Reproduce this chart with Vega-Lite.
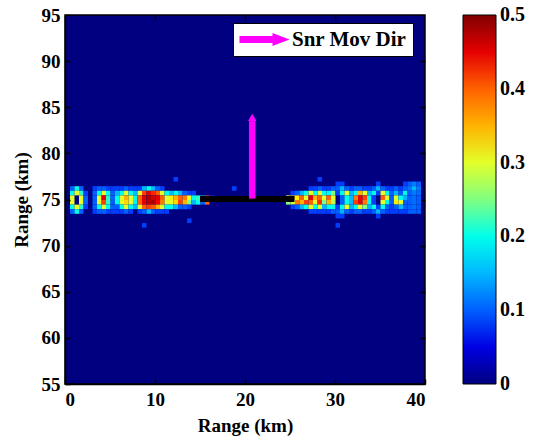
{
"$schema": "https://vega.github.io/schema/vega-lite/v6.json",
"width": 360,
"height": 369,
"autosize": {"type": "none"},
"padding": {"left": 65, "top": 15, "right": 113, "bottom": 55},
"background": "white",
"config": {
  "font": "Times New Roman, serif",
  "view": {"fill": "#000080", "stroke": "black", "strokeWidth": 1.5},
  "axis": {"labelFont": "Times New Roman, serif", "labelFontWeight": "bold", "labelFontSize": 19, "labelColor": "black", "titleFont": "Times New Roman, serif", "titleFontWeight": "bold", "titleFontSize": 19, "titleColor": "black", "domainColor": "black", "domainWidth": 1.5, "tickColor": "black", "tickSize": -5, "tickWidth": 1.5, "grid": false},
  "legend": {"labelFont": "Times New Roman, serif", "titleFont": "Times New Roman, serif"}
},
"resolve": {"axis": {"x": "independent", "y": "independent"}},
"datasets": {
  "heat": [
{"x":0.75,"y":76.25,"v":0.1},{"x":0.75,"y":75.75,"v":0.2},{"x":0.75,"y":75.25,"v":0.3},{"x":0.75,"y":74.75,"v":0.3},{"x":0.75,"y":74.25,"v":0.2},{"x":0.75,"y":73.75,"v":0.1},
{"x":1.25,"y":76.25,"v":0.2},{"x":1.25,"y":75.75,"v":0.3},{"x":1.25,"y":74.25,"v":0.3},{"x":1.25,"y":73.75,"v":0.2},
{"x":1.75,"y":76.25,"v":0.1},{"x":1.75,"y":75.75,"v":0.22},{"x":1.75,"y":75.25,"v":0.3},{"x":1.75,"y":74.75,"v":0.3},{"x":1.75,"y":74.25,"v":0.22},{"x":1.75,"y":73.75,"v":0.1},
{"x":2.25,"y":75.75,"v":0.08},{"x":2.25,"y":75.25,"v":0.1},{"x":2.25,"y":74.75,"v":0.1},{"x":2.25,"y":74.25,"v":0.08},
{"x":3.25,"y":76.25,"v":0.08},{"x":3.25,"y":75.75,"v":0.1},{"x":3.25,"y":75.25,"v":0.1},{"x":3.25,"y":74.75,"v":0.1},{"x":3.25,"y":74.25,"v":0.1},{"x":3.25,"y":73.75,"v":0.08},
{"x":3.75,"y":76.25,"v":0.1},{"x":3.75,"y":75.75,"v":0.2},{"x":3.75,"y":75.25,"v":0.3},{"x":3.75,"y":74.75,"v":0.3},{"x":3.75,"y":74.25,"v":0.2},{"x":3.75,"y":73.75,"v":0.1},
{"x":4.25,"y":76.25,"v":0.1},{"x":4.25,"y":75.75,"v":0.3},{"x":4.25,"y":75.25,"v":0.45},{"x":4.25,"y":74.75,"v":0.42},{"x":4.25,"y":74.25,"v":0.3},{"x":4.25,"y":73.75,"v":0.1},
{"x":4.75,"y":76.25,"v":0.08},{"x":4.75,"y":75.75,"v":0.2},{"x":4.75,"y":75.25,"v":0.22},{"x":4.75,"y":74.75,"v":0.22},{"x":4.75,"y":74.25,"v":0.2},{"x":4.75,"y":73.75,"v":0.08},
{"x":5.25,"y":76.25,"v":0.08},{"x":5.25,"y":75.75,"v":0.1},{"x":5.25,"y":75.25,"v":0.1},{"x":5.25,"y":74.75,"v":0.1},{"x":5.25,"y":74.25,"v":0.1},{"x":5.25,"y":73.75,"v":0.08},
{"x":5.75,"y":76.25,"v":0.08},{"x":5.75,"y":75.75,"v":0.15},{"x":5.75,"y":75.25,"v":0.2},{"x":5.75,"y":74.75,"v":0.2},{"x":5.75,"y":74.25,"v":0.1},{"x":5.75,"y":73.75,"v":0.08},
{"x":6.25,"y":76.25,"v":0.08},{"x":6.25,"y":75.75,"v":0.2},{"x":6.25,"y":75.25,"v":0.3},{"x":6.25,"y":74.75,"v":0.3},{"x":6.25,"y":74.25,"v":0.2},{"x":6.25,"y":73.75,"v":0.08},
{"x":6.75,"y":76.25,"v":0.1},{"x":6.75,"y":75.75,"v":0.3},{"x":6.75,"y":75.25,"v":0.35},{"x":6.75,"y":74.75,"v":0.33},{"x":6.75,"y":74.25,"v":0.3},{"x":6.75,"y":73.75,"v":0.1},
{"x":7.25,"y":76.25,"v":0.08},{"x":7.25,"y":75.75,"v":0.2},{"x":7.25,"y":75.25,"v":0.3},{"x":7.25,"y":74.75,"v":0.3},{"x":7.25,"y":74.25,"v":0.2},{"x":7.25,"y":73.75,"v":0.08},
{"x":7.75,"y":76.25,"v":0.08},{"x":7.75,"y":75.75,"v":0.15},{"x":7.75,"y":75.25,"v":0.2},{"x":7.75,"y":74.75,"v":0.18},{"x":7.75,"y":74.25,"v":0.15},
{"x":8.25,"y":76.25,"v":0.08},{"x":8.25,"y":75.75,"v":0.3},{"x":8.25,"y":75.25,"v":0.4},{"x":8.25,"y":74.75,"v":0.4},{"x":8.25,"y":74.25,"v":0.3},{"x":8.25,"y":73.75,"v":0.08},
{"x":8.75,"y":76.25,"v":0.15},{"x":8.75,"y":75.75,"v":0.42},{"x":8.75,"y":75.25,"v":0.46},{"x":8.75,"y":74.75,"v":0.45},{"x":8.75,"y":74.25,"v":0.4},{"x":8.75,"y":73.75,"v":0.1},
{"x":9.25,"y":76.25,"v":0.2},{"x":9.25,"y":75.75,"v":0.45},{"x":9.25,"y":75.25,"v":0.48},{"x":9.25,"y":74.75,"v":0.47},{"x":9.25,"y":74.25,"v":0.42},{"x":9.25,"y":73.75,"v":0.15},
{"x":9.75,"y":76.25,"v":0.15},{"x":9.75,"y":75.75,"v":0.43},{"x":9.75,"y":75.25,"v":0.46},{"x":9.75,"y":74.75,"v":0.48},{"x":9.75,"y":74.25,"v":0.4},{"x":9.75,"y":73.75,"v":0.1},
{"x":10.25,"y":76.25,"v":0.1},{"x":10.25,"y":75.75,"v":0.4},{"x":10.25,"y":75.25,"v":0.45},{"x":10.25,"y":74.75,"v":0.44},{"x":10.25,"y":74.25,"v":0.35},{"x":10.25,"y":73.75,"v":0.08},
{"x":10.75,"y":76.25,"v":0.08},{"x":10.75,"y":75.75,"v":0.3},{"x":10.75,"y":75.25,"v":0.4},{"x":10.75,"y":74.75,"v":0.38},{"x":10.75,"y":74.25,"v":0.3},{"x":10.75,"y":73.75,"v":0.08},
{"x":11.25,"y":75.75,"v":0.2},{"x":11.25,"y":75.25,"v":0.3},{"x":11.25,"y":74.75,"v":0.3},{"x":11.25,"y":74.25,"v":0.2},{"x":11.25,"y":73.75,"v":0.08},
{"x":11.75,"y":75.75,"v":0.15},{"x":11.75,"y":75.25,"v":0.32},{"x":11.75,"y":74.75,"v":0.3},{"x":11.75,"y":74.25,"v":0.2},
{"x":12.25,"y":75.75,"v":0.2},{"x":12.25,"y":75.25,"v":0.35},{"x":12.25,"y":74.75,"v":0.33},{"x":12.25,"y":74.25,"v":0.15},
{"x":12.75,"y":75.75,"v":0.15},{"x":12.75,"y":75.25,"v":0.4},{"x":12.75,"y":74.75,"v":0.42},{"x":12.75,"y":74.25,"v":0.1},
{"x":13.25,"y":75.75,"v":0.1},{"x":13.25,"y":75.25,"v":0.38},{"x":13.25,"y":74.75,"v":0.35},{"x":13.25,"y":74.25,"v":0.1},
{"x":13.75,"y":75.75,"v":0.08},{"x":13.75,"y":75.25,"v":0.3},{"x":13.75,"y":74.75,"v":0.25},{"x":13.75,"y":74.25,"v":0.08},
{"x":14.25,"y":75.75,"v":0.08},{"x":14.25,"y":75.25,"v":0.2},{"x":14.25,"y":74.75,"v":0.15},
{"x":14.75,"y":75.25,"v":0.22},{"x":14.75,"y":74.75,"v":0.2},
{"x":15.25,"y":75.25,"v":0.15},{"x":15.25,"y":74.75,"v":0.1},
{"x":15.75,"y":75.25,"v":0.42},{"x":15.75,"y":74.75,"v":0.4},
{"x":16.25,"y":75.25,"v":0.08},
{"x":12.25,"y":77.25,"v":0.08},{"x":18.75,"y":76.25,"v":0.08},{"x":13.75,"y":72.75,"v":0.08},{"x":8.75,"y":72.25,"v":0.08},{"x":28.25,"y":77.25,"v":0.08},{"x":30.25,"y":72.25,"v":0.08},
{"x":24.75,"y":75.25,"v":0.3},{"x":24.75,"y":74.75,"v":0.25},
{"x":25.25,"y":75.75,"v":0.08},{"x":25.25,"y":75.25,"v":0.35},{"x":25.25,"y":74.75,"v":0.3},{"x":25.25,"y":74.25,"v":0.08},
{"x":25.75,"y":75.75,"v":0.1},{"x":25.75,"y":75.25,"v":0.32},{"x":25.75,"y":74.75,"v":0.38},{"x":25.75,"y":74.25,"v":0.1},
{"x":26.25,"y":75.75,"v":0.15},{"x":26.25,"y":75.25,"v":0.4},{"x":26.25,"y":74.75,"v":0.35},{"x":26.25,"y":74.25,"v":0.15},
{"x":26.75,"y":75.75,"v":0.2},{"x":26.75,"y":75.25,"v":0.3},{"x":26.75,"y":74.75,"v":0.42},{"x":26.75,"y":74.25,"v":0.2},
{"x":27.25,"y":76.25,"v":0.08},{"x":27.25,"y":75.75,"v":0.3},{"x":27.25,"y":75.25,"v":0.45},{"x":27.25,"y":74.75,"v":0.4},{"x":27.25,"y":74.25,"v":0.3},{"x":27.25,"y":73.75,"v":0.08},
{"x":27.75,"y":76.25,"v":0.08},{"x":27.75,"y":75.75,"v":0.2},{"x":27.75,"y":75.25,"v":0.35},{"x":27.75,"y":74.75,"v":0.3},{"x":27.75,"y":74.25,"v":0.2},{"x":27.75,"y":73.75,"v":0.08},
{"x":28.25,"y":76.25,"v":0.1},{"x":28.25,"y":75.75,"v":0.3},{"x":28.25,"y":75.25,"v":0.4},{"x":28.25,"y":74.75,"v":0.43},{"x":28.25,"y":74.25,"v":0.3},{"x":28.25,"y":73.75,"v":0.08},
{"x":28.75,"y":76.25,"v":0.08},{"x":28.75,"y":75.75,"v":0.2},{"x":28.75,"y":75.25,"v":0.3},{"x":28.75,"y":74.75,"v":0.25},{"x":28.75,"y":74.25,"v":0.15},{"x":28.75,"y":73.75,"v":0.08},
{"x":29.25,"y":76.25,"v":0.08},{"x":29.25,"y":75.75,"v":0.2},{"x":29.25,"y":75.25,"v":0.4},{"x":29.25,"y":74.75,"v":0.35},{"x":29.25,"y":74.25,"v":0.2},{"x":29.25,"y":73.75,"v":0.08},
{"x":29.75,"y":76.25,"v":0.1},{"x":29.75,"y":75.75,"v":0.25},{"x":29.75,"y":75.25,"v":0.3},{"x":29.75,"y":74.75,"v":0.28},{"x":29.75,"y":74.25,"v":0.2},{"x":29.75,"y":73.75,"v":0.1},
{"x":30.25,"y":76.75,"v":0.08},{"x":30.25,"y":76.25,"v":0.1},{"x":30.25,"y":75.75,"v":0.08},{"x":30.25,"y":74.25,"v":0.08},{"x":30.25,"y":73.75,"v":0.1},{"x":30.25,"y":73.25,"v":0.08},
{"x":30.75,"y":76.75,"v":0.08},{"x":30.75,"y":76.25,"v":0.15},{"x":30.75,"y":75.75,"v":0.2},{"x":30.75,"y":75.25,"v":0.1},{"x":30.75,"y":74.75,"v":0.1},{"x":30.75,"y":74.25,"v":0.2},{"x":30.75,"y":73.75,"v":0.15},{"x":30.75,"y":73.25,"v":0.08},
{"x":31.25,"y":76.25,"v":0.1},{"x":31.25,"y":75.75,"v":0.3},{"x":31.25,"y":75.25,"v":0.2},{"x":31.25,"y":74.75,"v":0.2},{"x":31.25,"y":74.25,"v":0.3},{"x":31.25,"y":73.75,"v":0.1},
{"x":31.75,"y":76.25,"v":0.08},{"x":31.75,"y":75.75,"v":0.15},{"x":31.75,"y":75.25,"v":0.15},{"x":31.75,"y":74.75,"v":0.15},{"x":31.75,"y":74.25,"v":0.15},{"x":31.75,"y":73.75,"v":0.08},
{"x":32.25,"y":76.25,"v":0.1},{"x":32.25,"y":75.75,"v":0.2},{"x":32.25,"y":75.25,"v":0.38},{"x":32.25,"y":74.75,"v":0.42},{"x":32.25,"y":74.25,"v":0.2},{"x":32.25,"y":73.75,"v":0.1},
{"x":32.75,"y":76.25,"v":0.1},{"x":32.75,"y":75.75,"v":0.35},{"x":32.75,"y":75.25,"v":0.45},{"x":32.75,"y":74.75,"v":0.45},{"x":32.75,"y":74.25,"v":0.3},{"x":32.75,"y":73.75,"v":0.1},
{"x":33.25,"y":76.25,"v":0.08},{"x":33.25,"y":75.75,"v":0.3},{"x":33.25,"y":75.25,"v":0.42},{"x":33.25,"y":74.75,"v":0.38},{"x":33.25,"y":74.25,"v":0.25},{"x":33.25,"y":73.75,"v":0.08},
{"x":33.75,"y":76.25,"v":0.08},{"x":33.75,"y":75.75,"v":0.15},{"x":33.75,"y":75.25,"v":0.2},{"x":33.75,"y":74.75,"v":0.2},{"x":33.75,"y":74.25,"v":0.15},{"x":33.75,"y":73.75,"v":0.08},
{"x":34.25,"y":76.25,"v":0.1},{"x":34.25,"y":75.75,"v":0.2},{"x":34.25,"y":75.25,"v":0.08},{"x":34.25,"y":74.75,"v":0.08},{"x":34.25,"y":74.25,"v":0.2},{"x":34.25,"y":73.75,"v":0.1},
{"x":34.75,"y":76.75,"v":0.08},{"x":34.75,"y":76.25,"v":0.15},{"x":34.75,"y":75.75,"v":0.08},{"x":34.75,"y":74.25,"v":0.08},{"x":34.75,"y":73.75,"v":0.15},{"x":34.75,"y":73.25,"v":0.08},
{"x":35.25,"y":76.25,"v":0.1},{"x":35.25,"y":75.75,"v":0.3},{"x":35.25,"y":75.25,"v":0.4},{"x":35.25,"y":74.75,"v":0.3},{"x":35.25,"y":74.25,"v":0.2},{"x":35.25,"y":73.75,"v":0.1},
{"x":35.75,"y":76.25,"v":0.08},{"x":35.75,"y":75.75,"v":0.2},{"x":35.75,"y":75.25,"v":0.3},{"x":35.75,"y":74.75,"v":0.2},{"x":35.75,"y":74.25,"v":0.1},{"x":35.75,"y":73.75,"v":0.08},
{"x":36.25,"y":76.25,"v":0.08},{"x":36.25,"y":75.75,"v":0.1},{"x":36.25,"y":75.25,"v":0.1},{"x":36.25,"y":74.75,"v":0.1},{"x":36.25,"y":74.25,"v":0.08},{"x":36.25,"y":73.75,"v":0.08},
{"x":36.75,"y":76.25,"v":0.1},{"x":36.75,"y":75.75,"v":0.15},{"x":36.75,"y":75.25,"v":0.3},{"x":36.75,"y":74.75,"v":0.32},{"x":36.75,"y":74.25,"v":0.1},{"x":36.75,"y":73.75,"v":0.08},
{"x":37.25,"y":76.25,"v":0.08},{"x":37.25,"y":75.75,"v":0.1},{"x":37.25,"y":75.25,"v":0.2},{"x":37.25,"y":74.75,"v":0.3},{"x":37.25,"y":74.25,"v":0.15},{"x":37.25,"y":73.75,"v":0.08},
{"x":37.75,"y":76.75,"v":0.08},{"x":37.75,"y":76.25,"v":0.1},{"x":37.75,"y":75.75,"v":0.2},{"x":37.75,"y":75.25,"v":0.15},{"x":37.75,"y":74.75,"v":0.1},{"x":37.75,"y":74.25,"v":0.1},{"x":37.75,"y":73.75,"v":0.08},
{"x":38.25,"y":76.75,"v":0.1},{"x":38.25,"y":76.25,"v":0.12},{"x":38.25,"y":75.75,"v":0.1},{"x":38.25,"y":75.25,"v":0.1},{"x":38.25,"y":74.75,"v":0.1},{"x":38.25,"y":74.25,"v":0.1},{"x":38.25,"y":73.75,"v":0.1},
{"x":38.75,"y":76.75,"v":0.12},{"x":38.75,"y":76.25,"v":0.15},{"x":38.75,"y":75.75,"v":0.12},{"x":38.75,"y":75.25,"v":0.11},{"x":38.75,"y":74.75,"v":0.11},{"x":38.75,"y":74.25,"v":0.11},{"x":38.75,"y":73.75,"v":0.1},
{"x":39.25,"y":76.75,"v":0.1},{"x":39.25,"y":76.25,"v":0.12},{"x":39.25,"y":75.75,"v":0.11},{"x":39.25,"y":75.25,"v":0.1},{"x":39.25,"y":74.75,"v":0.1},{"x":39.25,"y":74.25,"v":0.1},{"x":39.25,"y":73.75,"v":0.1}
  ],
  "line": [{"x": 15, "x2": 25.5, "y": 75.05}],
  "arrow": [{"x": 20.8, "y": 75.1, "y2": 83.5, "head": 83.9, "name": "Snr Mov Dir"}]
},
"layer": [
  {
    "data": {"name": "heat"},
    "mark": {"type": "rect"},
    "encoding": {
      "x": {"field": "x", "type": "quantitative", "bin": {"step": 0.5, "extent": [0, 40]}, "scale": {"domain": [0, 40], "nice": false}, "axis": {"values": [0, 10, 20, 30, 40], "title": "Range (km)", "format": "d", "labelPadding": 11, "titlePadding": 7}},
      "y": {"field": "y", "type": "quantitative", "bin": {"step": 0.5, "extent": [55, 95]}, "scale": {"domain": [55, 95], "nice": false}, "axis": {"values": [55, 60, 65, 70, 75, 80, 85, 90, 95], "title": "Range (km)", "format": "d", "labelPadding": 10, "titlePadding": 10}},
      "color": {"field": "v", "type": "quantitative",
        "scale": {"domain": [0, 0.0625, 0.125, 0.1875, 0.25, 0.3125, 0.375, 0.4375, 0.5], "range": ["#000080", "#0000FF", "#0080FF", "#00FFFF", "#80FF80", "#FFFF00", "#FF8000", "#FF0000", "#800000"]},
        "legend": {"orient": "none", "legendX": 398, "legendY": 0, "direction": "vertical", "gradientLength": 369, "gradientThickness": 33, "title": null, "values": [0, 0.1, 0.2, 0.3, 0.4, 0.5], "format": ".1~f", "labelFontSize": 20, "labelFontWeight": "bold", "labelFont": "Times New Roman, serif", "labelColor": "black", "gradientStrokeColor": "black", "gradientStrokeWidth": 1, "labelOverlap": false, "labelOffset": 4,
          "encode": {"labels": {"update": {"baseline": {"value": "middle"}, "font": {"value": "Times New Roman, serif"}, "fontWeight": {"value": "bold"}}}}}}
    }
  },
  {
    "data": {"name": "line"},
    "mark": {"type": "rule", "color": "black", "strokeWidth": 6},
    "encoding": {
      "x": {"field": "x", "type": "quantitative", "axis": {"orient": "top", "values": [10, 20, 30], "labels": false, "title": null, "domain": false}},
      "x2": {"field": "x2"},
      "y": {"field": "y", "type": "quantitative", "axis": {"orient": "right", "values": [60, 65, 70, 75, 80, 85, 90], "labels": false, "title": null, "domain": false}}
    }
  },
  {
    "data": {"name": "arrow"},
    "mark": {"type": "rule", "color": "#FF00FF", "strokeWidth": 6.5},
    "encoding": {
      "x": {"field": "x", "type": "quantitative", "axis": null},
      "y": {"field": "y", "type": "quantitative", "axis": null},
      "y2": {"field": "y2"}
    }
  },
  {
    "data": {"name": "arrow"},
    "mark": {"type": "point", "shape": "triangle-up", "filled": true, "size": 70, "opacity": 1},
    "encoding": {
      "x": {"field": "x", "type": "quantitative", "axis": null},
      "y": {"field": "head", "type": "quantitative", "axis": null},
      "fill": {"field": "name", "type": "nominal", "scale": {"range": ["#FF00FF"]},
        "legend": {"orient": "none", "legendX": 168, "legendY": 8, "title": null, "fillColor": "white", "strokeColor": "black", "padding": 6, "symbolType": "M-1,-0.35L2.3,-0.35L2.3,-0.65L4,0L2.3,0.65L2.3,0.35L-1,0.35Z", "symbolSize": 400, "symbolStrokeWidth": 0, "symbolOpacity": 1, "labelFontSize": 21, "labelFontWeight": "bold", "labelFont": "Times New Roman, serif", "labelOffset": 32, "labelColor": "black",
          "encode": {"labels": {"update": {"font": {"value": "Times New Roman, serif"}, "fontWeight": {"value": "bold"}}}}}}
    }
  }
]
}
